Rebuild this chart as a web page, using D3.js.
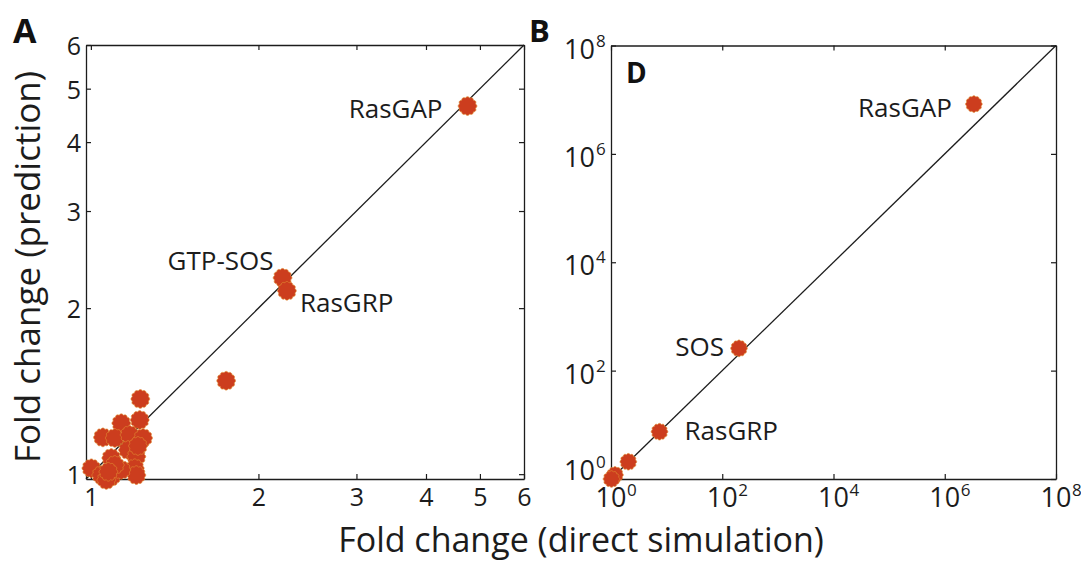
<!DOCTYPE html>
<html>
<head>
<meta charset="utf-8">
<script src="https://cdn.jsdelivr.net/npm/d3@7"></script>
<style>
  body { margin: 0; background: #fff; }
  svg { display: block; font-family: "Open Sans", sans-serif; }
</style>
</head>
<body>
<svg id="chart" width="1081" height="562"></svg>
<script>
// panel A: fold change from direct simulation vs prediction (first three are labelled)
const simA = [4.75, 2.21, 2.25, 1.75, 1.227, 1.134, 1.224, 1.051, 1.104, 1.174, 1.241,
  1.166, 1.088, 1.207, 1.199, 1.207, 1.002, 1.044, 1.088, 1.066, 1.134, 1.104, 1.215, 1.075];
const predA = [4.65, 2.27, 2.15, 1.477, 1.369, 1.237, 1.254, 1.166, 1.163, 1.178, 1.163,
  1.106, 1.070, 1.076, 1.025, 0.996, 1.025, 0.996, 0.989, 0.976, 1.018, 1.039, 1.125, 1.010];
const namesA = ["RasGAP", "GTP-SOS", "RasGRP"];
const ticksA = [1, 2, 3, 4, 5, 6];

// panel D
const simD = [3.34e6, 200, 7.45, 2.05, 1.18, 1.02];
const predD = [8.3e6, 258, 7.46, 2.08, 1.19, 1.0];
const namesD = ["RasGAP", "SOS", "RasGRP"];
const ticksD = [1, 1e2, 1e4, 1e6, 1e8];

const svg = d3.select("#chart");
const ink = "#1c1c1c";

// scalloped marker, like a thick matlab asterisk
const gear = {
  draw (ctx, size) {
    const r = Math.sqrt(size / Math.PI);
    const steps = 120;
    for (let i = 0; i <= steps; i++) {
      const a = i / steps * 2 * Math.PI;
      const rr = r * (0.92 + 0.12 * Math.abs(Math.cos(6 * a)));
      const px = rr * Math.cos(a), py = rr * Math.sin(a);
      if (i === 0) ctx.moveTo(px, py); else ctx.lineTo(px, py);
    }
    ctx.closePath();
  }
};

function drawAxes (x, y, xt, yt, fmt) {
  const [x0, x1] = x.range();
  const [y0, y1] = y.range();
  const g = svg.append("g");
  const bottom = g.append("g").attr("transform", `translate(0,${y0})`)
    .call(d3.axisBottom(x).tickValues(xt).tickSizeInner(-5).tickSizeOuter(0).tickFormat(fmt));
  g.append("g").attr("transform", `translate(0,${y1})`)
    .call(d3.axisTop(x).tickValues(xt).tickSizeInner(-5).tickSizeOuter(0).tickFormat(""));
  const left = g.append("g").attr("transform", `translate(${x0},0)`)
    .call(d3.axisLeft(y).tickValues(yt).tickSizeInner(-5).tickSizeOuter(0).tickFormat(fmt));
  g.append("g").attr("transform", `translate(${x1},0)`)
    .call(d3.axisRight(y).tickValues(yt).tickSizeInner(-5).tickSizeOuter(0).tickFormat(""));
  g.selectAll(".domain").attr("stroke", ink).attr("stroke-width", 1.3);
  g.selectAll(".tick line").attr("stroke", ink).attr("stroke-width", 1.2);
  g.selectAll("g").attr("font-family", null).attr("font-size", null);
  return { bottom, left };
}

// ---- panel A ----
const xA = d3.scaleLog().domain([0.98, 6]).range([86, 524]);
const yA = d3.scaleLog().domain([0.98, 6]).range([479, 45]);

const axA = drawAxes(xA, yA, ticksA, ticksA, d3.format("d"));
axA.bottom.selectAll("text").attr("y", 27).attr("dy", null)
  .attr("font-size", 25).attr("fill", ink);
axA.left.selectAll("text").attr("x", -5).attr("dy", "0.38em")
  .attr("font-size", 25).attr("fill", ink);

svg.append("path")
  .attr("d", d3.line()(xA.domain().map(v => [xA(v), yA(v)])))
  .attr("stroke", ink).attr("stroke-width", 1.3).attr("fill", "none");

svg.append("g").selectAll("path")
  .data(simA.map((v, i) => [v, predA[i]]))
  .join("path")
  .attr("transform", d => `translate(${xA(d[0])},${yA(d[1])})`)
  .attr("d", d3.symbol(gear, Math.PI * 9 * 9))
  .attr("fill", "#cc3d1e").attr("stroke", "#e08a32").attr("stroke-width", 0.7);

// ---- panel D ----
const xD = d3.scaleLog().domain([1, 1e8]).range([611, 1056]);
const yD = d3.scaleLog().domain([1, 1e8]).range([479, 45.5]);

drawAxes(xD, yD, ticksD, ticksD, "");

const tickD = svg.append("g").attr("fill", ink);
ticksD.forEach((t, i) => {
  const e = Math.round(Math.log10(t));
  tickD.append("text").attr("x", xD(t)).attr("y", 507)
    .attr("text-anchor", "middle").attr("font-size", 27).text("10");
  tickD.append("text").attr("x", xD(t) + 16).attr("y", 496)
    .attr("font-size", 17).text(e);
  const by = yD(t) + (i === 0 ? 1 : 13);
  tickD.append("text").attr("x", 595).attr("y", by)
    .attr("text-anchor", "end").attr("font-size", 27).text("10");
  tickD.append("text").attr("x", 596).attr("y", by - 12)
    .attr("font-size", 17).text(e);
});

svg.append("path")
  .attr("d", d3.line()(xD.domain().map(v => [xD(v), yD(v)])))
  .attr("stroke", ink).attr("stroke-width", 1.3).attr("fill", "none");

svg.append("g").selectAll("path")
  .data(simD.map((v, i) => [v, predD[i]]))
  .join("path")
  .attr("transform", d => `translate(${xD(d[0])},${yD(d[1])})`)
  .attr("d", d3.symbol(gear, Math.PI * 8 * 8))
  .attr("fill", "#cc3d1e").attr("stroke", "#e08a32").attr("stroke-width", 0.7);

// ---- point labels ----
const notes = [
  { x: xA, y: yA, v: [simA[0], predA[0]], text: namesA[0], dx: -25, dy: 12, anchor: "end" },
  { x: xA, y: yA, v: [simA[1], predA[1]], text: namesA[1], dx: -9, dy: -8, anchor: "end" },
  { x: xA, y: yA, v: [simA[2], predA[2]], text: namesA[2], dx: 13, dy: 21, anchor: "start" },
  { x: xD, y: yD, v: [simD[0], predD[0]], text: namesD[0], dx: -22, dy: 13, anchor: "end" },
  { x: xD, y: yD, v: [simD[1], predD[1]], text: namesD[1], dx: -15, dy: 8, anchor: "end" },
  { x: xD, y: yD, v: [simD[2], predD[2]], text: namesD[2], dx: 25, dy: 8, anchor: "start" }
];
svg.append("g").selectAll("text")
  .data(notes)
  .join("text")
  .attr("x", d => d.x(d.v[0]) + d.dx)
  .attr("y", d => d.y(d.v[1]) + d.dy)
  .attr("text-anchor", d => d.anchor)
  .attr("font-size", 26).attr("fill", ink)
  .text(d => d.text);

// ---- titles ----
svg.append("text").attr("x", 581).attr("y", 552)
  .attr("text-anchor", "middle").attr("font-size", 34).attr("fill", ink)
  .text("Fold change (direct simulation)");
svg.append("text").attr("transform", "translate(40,267) rotate(-90)")
  .attr("text-anchor", "middle").attr("font-size", 35).attr("fill", ink)
  .text("Fold change (prediction)");

svg.append("text").attr("x", 13).attr("y", 43).attr("font-size", 34)
  .attr("font-weight", 700).attr("fill", "#111").text("A");
svg.append("text").attr("x", 529).attr("y", 42).attr("font-size", 31)
  .attr("font-weight", 700).attr("fill", "#111").text("B");
svg.append("text").attr("x", 626).attr("y", 83).attr("font-size", 28)
  .attr("font-weight", 700).attr("fill", "#111").text("D");
</script>
</body>
</html>
